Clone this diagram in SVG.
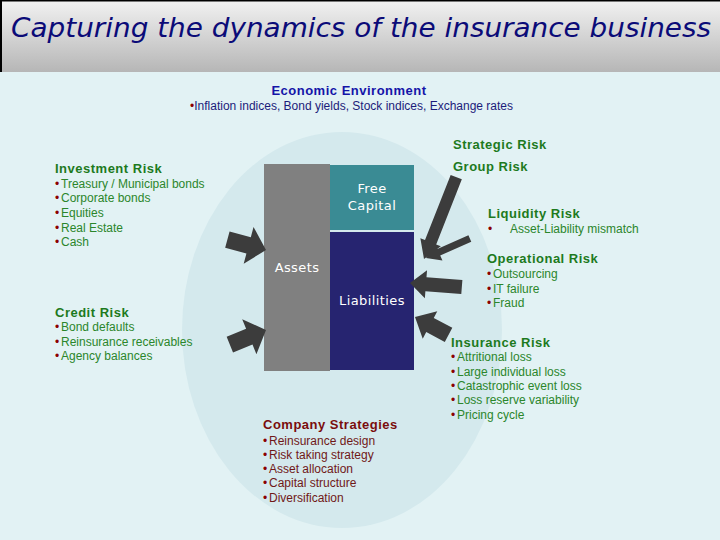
<svg xmlns="http://www.w3.org/2000/svg" width="720" height="540" viewBox="0 0 720 540">
<defs>
<linearGradient id="tb" x1="0" y1="0" x2="0" y2="1">
<stop offset="0" stop-color="#f2f2f2"/>
<stop offset="1" stop-color="#b6b6b6"/>
</linearGradient>
<style>
.h{font-family:"Liberation Sans",Arial,sans-serif;font-size:13px;font-weight:bold;letter-spacing:0.5px}
.g{fill:#1d7a1d}
.r{fill:#7a0c0c}
.t{font-family:"Liberation Sans",Arial,sans-serif;font-size:12px}
.gi{fill:#2b862b}
.ri{fill:#701818}
.b{fill:#8b0000}
.w{font-family:"DejaVu Sans",Verdana,sans-serif;font-size:13px;fill:#ffffff;text-anchor:middle;letter-spacing:0.4px}
.arr{fill:#3c3c3c}
</style>
</defs>
<rect x="0" y="0" width="720" height="540" fill="#e2f2f4"/>
<rect x="0" y="0" width="720" height="72" fill="url(#tb)"/>
<path d="M1,72 V0.5 H720" fill="none" stroke="#000" stroke-width="2"/>
<text x="11" y="37" font-family="DejaVu Sans, Verdana, sans-serif" font-size="26" font-style="italic" fill="#0b0b78" textLength="700" lengthAdjust="spacingAndGlyphs">Capturing the dynamics of the insurance business</text>

<ellipse cx="342" cy="330" rx="160" ry="198" fill="#d4e9ed"/>

<g id="economic-environment">
<text x="349" y="95" class="h" fill="#1414a8" text-anchor="middle">Economic Environment</text>
<text x="190" y="110" class="t"><tspan class="b">•</tspan><tspan fill="#1c1c7a">Inflation indices, Bond yields, Stock indices, Exchange rates</tspan></text>
</g>

<g id="investment-risk">
<text x="55" y="173" class="h g">Investment Risk</text>
<text class="t"><tspan x="55" y="188" class="b">•</tspan><tspan x="61" y="188" class="gi">Treasury / Municipal bonds</tspan><tspan x="55" y="202" class="b">•</tspan><tspan x="61" y="202" class="gi">Corporate bonds</tspan><tspan x="55" y="217" class="b">•</tspan><tspan x="61" y="217" class="gi">Equities</tspan><tspan x="55" y="232" class="b">•</tspan><tspan x="61" y="232" class="gi">Real Estate</tspan><tspan x="55" y="246" class="b">•</tspan><tspan x="61" y="246" class="gi">Cash</tspan></text>
</g>

<g id="credit-risk">
<text x="55" y="317" class="h g">Credit Risk</text>
<text class="t"><tspan x="55" y="331" class="b">•</tspan><tspan x="61" y="331" class="gi">Bond defaults</tspan><tspan x="55" y="346" class="b">•</tspan><tspan x="61" y="346" class="gi">Reinsurance receivables</tspan><tspan x="55" y="360" class="b">•</tspan><tspan x="61" y="360" class="gi">Agency balances</tspan></text>
</g>

<g id="assets">
<rect x="264" y="164" width="66" height="207" fill="#808080"/>
<text x="297" y="272" class="w">Assets</text>
</g>
<g id="free-capital">
<rect x="330" y="165" width="84" height="65" fill="#3a8b94"/>
<text x="372" y="193" class="w">Free</text>
<text x="372" y="210" class="w">Capital</text>
</g>
<g id="liabilities">
<rect x="330" y="232" width="84" height="138" fill="#262470"/>
<text x="372" y="305" class="w">Liabilities</text>
</g>

<g id="strategic-risk">
<text x="453" y="149" class="h g">Strategic Risk</text>
</g>
<g id="group-risk">
<text x="453" y="171" class="h g">Group Risk</text>
</g>
<g id="liquidity-risk">
<text x="488" y="218" class="h g">Liquidity Risk</text>
<text class="t"><tspan x="488" y="233" class="b">•</tspan><tspan x="510" y="233" class="gi">Asset-Liability mismatch</tspan></text>
</g>
<g id="operational-risk">
<text x="487" y="263" class="h g">Operational Risk</text>
<text class="t"><tspan x="487" y="278" class="b">•</tspan><tspan x="493" y="278" class="gi">Outsourcing</tspan><tspan x="487" y="293" class="b">•</tspan><tspan x="493" y="293" class="gi">IT failure</tspan><tspan x="487" y="307" class="b">•</tspan><tspan x="493" y="307" class="gi">Fraud</tspan></text>
</g>
<g id="insurance-risk">
<text x="451" y="347" class="h g">Insurance Risk</text>
<text class="t"><tspan x="451" y="361" class="b">•</tspan><tspan x="457" y="361" class="gi">Attritional loss</tspan><tspan x="451" y="376" class="b">•</tspan><tspan x="457" y="376" class="gi">Large individual loss</tspan><tspan x="451" y="390" class="b">•</tspan><tspan x="457" y="390" class="gi">Catastrophic event loss</tspan><tspan x="451" y="404" class="b">•</tspan><tspan x="457" y="404" class="gi">Loss reserve variability</tspan><tspan x="451" y="419" class="b">•</tspan><tspan x="457" y="419" class="gi">Pricing cycle</tspan></text>
</g>
<g id="company-strategies">
<text x="263" y="429" class="h r">Company Strategies</text>
<text class="t"><tspan x="263" y="445" class="b">•</tspan><tspan x="269" y="445" class="ri">Reinsurance design</tspan><tspan x="263" y="459" class="b">•</tspan><tspan x="269" y="459" class="ri">Risk taking strategy</tspan><tspan x="263" y="473" class="b">•</tspan><tspan x="269" y="473" class="ri">Asset allocation</tspan><tspan x="263" y="487" class="b">•</tspan><tspan x="269" y="487" class="ri">Capital structure</tspan><tspan x="263" y="502" class="b">•</tspan><tspan x="269" y="502" class="ri">Diversification</tspan></text>
</g>

<g id="connectors" class="arr">
<polygon transform="translate(266,250) rotate(15)" points="-40,-8.5 -18,-8.5 -18,-19 0,0 -18,19 -18,8.5 -40,8.5"/>
<polygon transform="translate(266,330) rotate(-22)" points="-39,-8.5 -18,-8.5 -18,-19 0,0 -18,19 -18,8.5 -39,8.5"/>
<polygon transform="translate(424,259) rotate(111.5)" points="-88,-6 -18,-6 -18,-11 0,0 -18,11 -18,6 -88,6"/>
<polygon transform="translate(426,258) rotate(156)" points="-48,-3.5 -14,-3.5 -14,-9 0,0 -14,9 -14,3.5 -48,3.5"/>
<polygon transform="translate(410,283) rotate(184.5)" points="-52,-7 -16,-7 -16,-14 0,0 -16,14 -16,7 -52,7"/>
<polygon transform="translate(415,317) rotate(208)" points="-38,-8 -17,-8 -17,-15.5 0,0 -17,15.5 -17,8 -38,8"/>
</g>
</svg>
